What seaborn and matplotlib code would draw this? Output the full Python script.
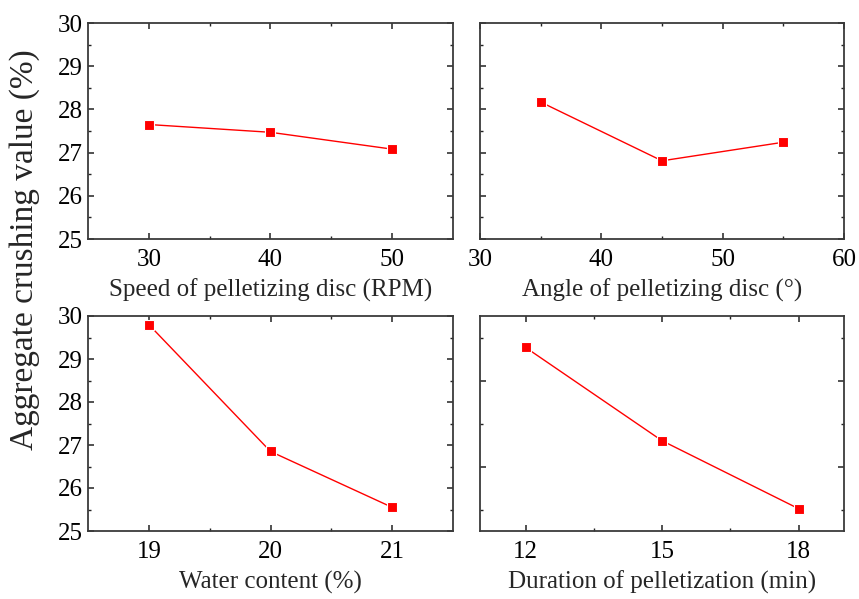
import matplotlib
matplotlib.use("Agg")
import matplotlib.pyplot as plt
import seaborn as sns
import pandas as pd
from matplotlib.ticker import FixedLocator

# Aggregate crushing value (%) against four pelletizing parameters
speed_rpm = [30, 40, 50]
speed_acv = [27.65, 27.47, 27.08]

angle_deg = [35, 45, 55]
angle_acv = [28.17, 26.81, 27.24]

water_pct = [19, 20, 21]
water_acv = [29.80, 26.85, 25.55]

duration_min = [12, 15, 18]
duration_acv = [29.27, 27.10, 25.52]

sns.set_theme(style="ticks")
plt.rcParams["font.family"] = ["Liberation Serif", "DejaVu Serif"]
plt.rcParams["mathtext.fontset"] = "stix"

fig = plt.figure(figsize=(8.59, 5.99), dpi=100)

W, H = 859, 599


def add_axes(l, t, r, b):
    return fig.add_axes([l / W, 1 - b / H, (r - l) / W, (b - t) / H])


panels = [
    dict(box=(88, 23, 453, 239), x=speed_rpm, y=speed_acv,
         xlim=(25, 55), major=[30, 40, 50], minor=[35, 45],
         label="Speed of pelletizing disc (RPM)", ylabels=True,
         ymajor=[25, 26, 27, 28, 29, 30], yminor=[25.5, 26.5, 27.5, 28.5, 29.5]),
    dict(box=(480, 23, 844, 239), x=angle_deg, y=angle_acv,
         xlim=(30, 60), major=[30, 40, 50, 60], minor=[35, 45, 55],
         label="Angle of pelletizing disc (°)", ylabels=False,
         ymajor=[25, 26, 27, 28, 29, 30], yminor=[25.5, 26.5, 27.5, 28.5, 29.5]),
    dict(box=(88, 316, 453, 531), x=water_pct, y=water_acv,
         xlim=(18.5, 21.5), major=[19, 20, 21], minor=[19.5, 20.5],
         label="Water content (%)", ylabels=True,
         ymajor=[25, 26, 27, 28, 29, 30], yminor=[25.5, 26.5, 27.5, 28.5, 29.5]),
    dict(box=(480, 316, 844, 531), x=duration_min, y=duration_acv,
         xlim=(11, 19), major=[12, 15, 18], minor=[13.5, 16.5],
         label="Duration of pelletization (min)", ylabels=False,
         ymajor=[26.5, 28.5], yminor=[25.5, 27.5, 29.5]),
]

spine_color = "#3a3a3a"

for p in panels:
    ax = add_axes(*p["box"])
    df = pd.DataFrame({"x": p["x"], "y": p["y"]})
    sns.lineplot(data=df, x="x", y="y", ax=ax, color="#ff0000",
                 linewidth=1.0, marker="s", markersize=7,
                 markeredgecolor="white", markeredgewidth=0.8)
    ax.set_xlim(*p["xlim"])
    ax.set_ylim(25, 30)
    ax.xaxis.set_major_locator(FixedLocator(p["major"]))
    ax.xaxis.set_minor_locator(FixedLocator(p["minor"]))
    ax.yaxis.set_major_locator(FixedLocator(p["ymajor"]))
    ax.yaxis.set_minor_locator(FixedLocator(p["yminor"]))
    ax.tick_params(which="both", direction="in", top=True, right=True,
                   color="#222222", labelsize=18, labelcolor="black")
    ax.tick_params(which="major", length=4, width=1.1)
    ax.tick_params(which="minor", length=2, width=1.0)
    ax.tick_params(axis="x", which="major", pad=7)
    ax.tick_params(axis="y", which="major", pad=4)
    if not p["ylabels"]:
        ax.tick_params(axis="y", labelleft=False)
    ax.set_xlabel(p["label"], fontsize=18, labelpad=6)
    ax.set_ylabel("")
    for s in ax.spines.values():
        s.set_color(spine_color)
        s.set_linewidth(1.3)

fig.text(25 / W, 1 - 250 / H, "Aggregate crushing value (%)", rotation=90,
         ha="center", va="center", fontsize=24)

fig.savefig("out.png", dpi=100)
